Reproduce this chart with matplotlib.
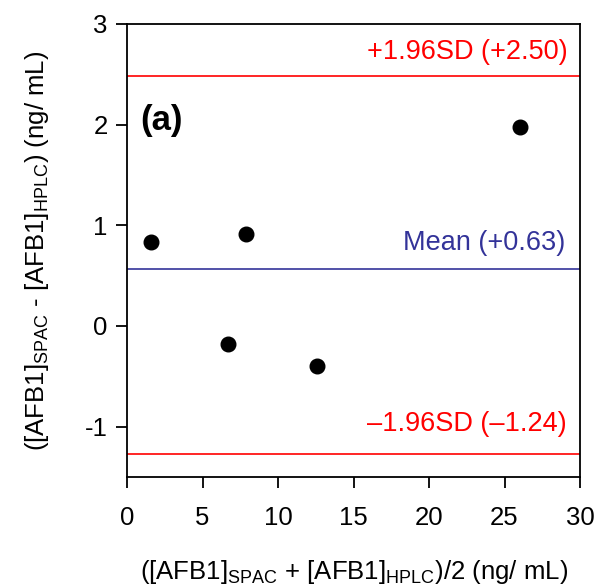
import matplotlib
matplotlib.use('Agg')
import matplotlib.pyplot as plt

plt.rcParams['font.family'] = ['Liberation Sans', 'DejaVu Sans']
plt.rcParams['mathtext.fontset'] = 'custom'
plt.rcParams['mathtext.rm'] = 'Liberation Sans'
plt.rcParams['axes.unicode_minus'] = False

# data
avg = [1.6, 6.7, 7.9, 12.6, 26.0]
diff = [0.83, -0.18, 0.91, -0.40, 1.98]
upper = 2.48
mean = 0.57
lower = -1.27
upper_lbl = '+1.96SD (+2.50)'
mean_lbl = 'Mean (+0.63)'
lower_lbl = '\u20131.96SD (\u20131.24)'

fig = plt.figure(figsize=(5.98, 5.88), dpi=100)
ax = fig.add_axes([0.2124, 0.1888, 0.7576, 0.7705])

ax.axhline(upper, color='#ff0000', lw=1.2)
ax.axhline(mean, color='#333399', lw=1.2)
ax.axhline(lower, color='#ff0000', lw=1.2)
ax.plot(avg, diff, 'o', color='black', ms=10.5)

ax.text(29.2, upper + 0.11, upper_lbl, color='#ff0000', fontsize=19.5, ha='right', va='bottom')
ax.text(29.0, mean + 0.12, mean_lbl, color='#333399', fontsize=19.5, ha='right', va='bottom')
ax.text(29.1, lower + 0.17, lower_lbl, color='#ff0000', fontsize=19.5, ha='right', va='bottom')
ax.text(0.9, 1.88, '(a)', fontsize=25, fontweight='bold', va='bottom')

ax.set_xlim(0, 30)
ax.set_ylim(-1.5, 3)
ax.set_xticks([0, 5, 10, 15, 20, 25, 30])
ax.set_yticks([-1, 0, 1, 2, 3])
ax.tick_params(direction='out', length=8, width=1.3, labelsize=18.5, pad=6)
ax.tick_params(axis='x', pad=13)
for s in ax.spines.values():
    s.set_linewidth(1.3)

ax.set_xlabel('([AFB1]$_{\\mathregular{SPAC}}$ + [AFB1]$_{\\mathregular{HPLC}}$)/2 (ng/ mL)',
              fontsize=18.5, labelpad=20)
ax.set_ylabel('([AFB1]$_{\\mathregular{SPAC}}$ - [AFB1]$_{\\mathregular{HPLC}}$) (ng/ mL)',
              fontsize=18.5, labelpad=24)

fig.savefig('out.png', dpi=100)
